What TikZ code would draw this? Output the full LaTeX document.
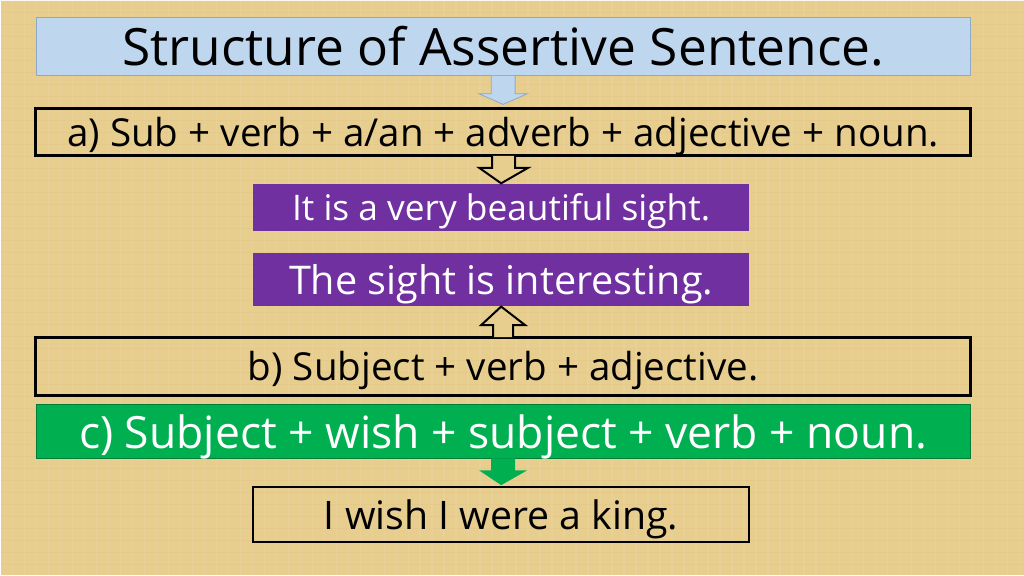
\documentclass[tikz,border=0pt]{standalone}
\usepackage{fontspec}
\setmainfont{Open Sans}
\usepackage{tikz}
\usetikzlibrary{positioning,calc}

\definecolor{papyrus}{RGB}{231,206,143}
\definecolor{titleblue}{RGB}{190,215,238}
\definecolor{titleedge}{RGB}{140,170,200}
\definecolor{stepviolet}{RGB}{112,48,160}
\definecolor{stepgreen}{RGB}{0,176,80}

\begin{document}
\begin{tikzpicture}[x=1pt,y=-1pt]%
\tikzstyle{titlebox} = [draw=titleedge, fill=titleblue, rectangle, minimum width=936pt,
    minimum height=59pt, inner sep=0pt, font=\fontsize{51.5}{56}\selectfont]
\tikzstyle{rulebox} = [draw=black, line width=2.5pt, rectangle, minimum width=936pt,
    inner sep=0pt, text depth=0pt, font=\fontsize{38.6}{42}\selectfont]
\tikzstyle{greenbox} = [fill=stepgreen, draw=stepgreen!70!black, rectangle, minimum width=936pt,
    minimum height=54pt, inner sep=0pt, text depth=0pt, text=white, font=\fontsize{44.5}{48}\selectfont]
\tikzstyle{violetbox} = [fill=stepviolet, rectangle, minimum width=496pt,
    inner sep=0pt, text depth=0pt, text=white]
\tikzstyle{examplebox} = [draw=black, line width=2pt, rectangle, minimum width=496pt,
    minimum height=55pt, inner sep=0pt, text depth=0pt, font=\fontsize{39.3}{43}\selectfont]
\tikzstyle{hollowarrow} = [draw=black, line width=2pt, fill=papyrus, line join=miter]

% background
\fill[papyrus] (0,0) rectangle (1024,575);
\foreach \x in {0,12,...,1024}
  \draw[white, opacity=0.08, line width=1.5pt] (\x,0) -- (\x,575);
\foreach \y in {0,12,...,575}
  \draw[brown, opacity=0.06, line width=1pt] (0,\y) -- (1024,\y);
\useasboundingbox (0,0) rectangle (1024,575);

\node[titlebox] (title) at (503,45.5) {Structure of Assertive Sentence.};
\node[rulebox, minimum height=47pt] (rulea) at (503,131.5) {a) Sub + verb + a/an + adverb + adjective + noun.};
\node[violetbox, minimum height=48pt, font=\fontsize{35.3}{38}\selectfont] (exa) at (501,207)
    {It is a very beautiful sight.};
\node[violetbox, minimum height=53pt, font=\fontsize{39.6}{43}\selectfont] (exb) at (501,279.5)
    {The sight is interesting.};
\node[rulebox, minimum height=58pt] (ruleb) at (503,366) {b) Subject + verb + adjective.};
\node[greenbox] (rulec) at (503,431) {c) Subject + wish + subject + verb + noun.};
\node[examplebox] (exc) at (501,514.5) {I wish I were a king.};

% block arrows
\fill[titleblue, draw=titleedge, line width=0.8pt]
  ($(title.south)+(-12,0)$) -- ++(0,18) -- ++(-12,0) -- ($(rulea.north)+(0,-3)$)
  -- ($(title.south)+(24,18)$) -- ++(-12,0) -- ++(0,-18);
\draw[hollowarrow]
  ($(rulea.south)+(-11,-1)$) -- ++(0,12) -- ++(-13,0) -- (exa.north)
  -- ($(rulea.south)+(25,11)$) -- ++(-13,0) -- ++(0,-12);
\draw[hollowarrow]
  ($(ruleb.north)+(-10,1)$) -- ++(0,-12) -- ++(-12,0) -- (exb.south)
  -- ($(ruleb.north)+(22,-11)$) -- ++(-12,0) -- ++(0,12);
\fill[stepgreen]
  ($(rulec.south)+(-12,0)$) -- ++(0,12) -- ++(-12,0) -- ($(exc.north)+(0,-1)$)
  -- ($(rulec.south)+(24,12)$) -- ++(-12,0) -- ++(0,-12);
\end{tikzpicture}
\end{document}
